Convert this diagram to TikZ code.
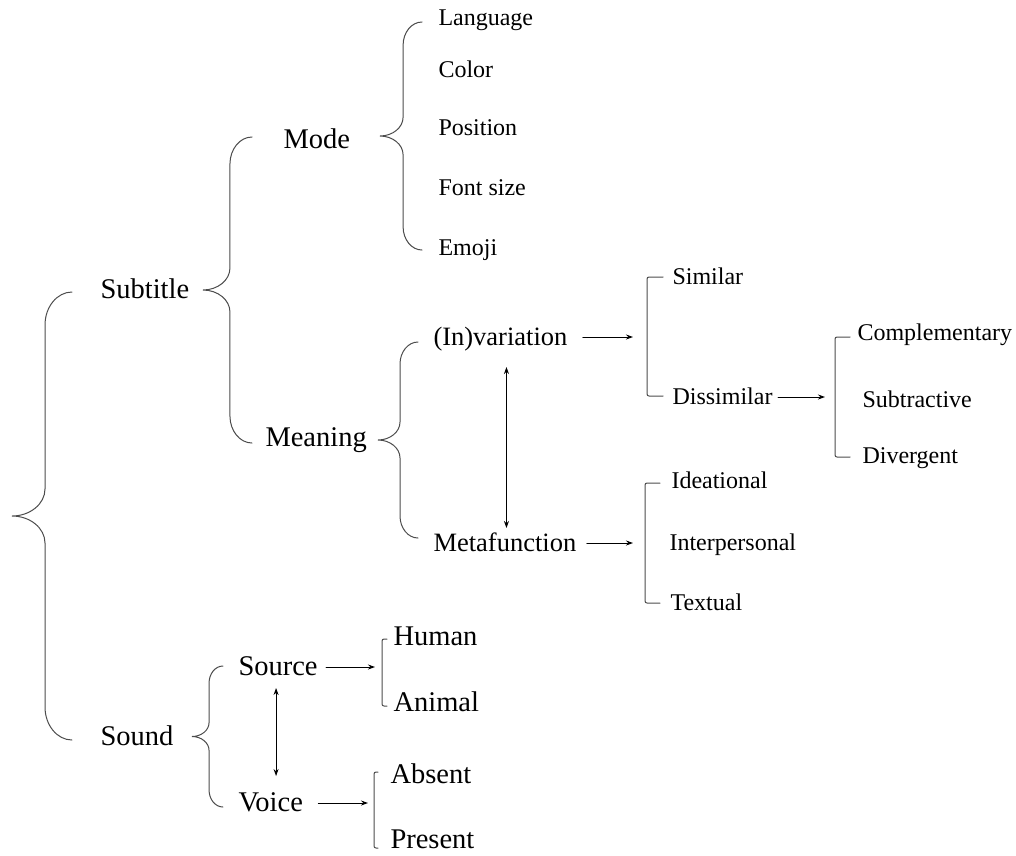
\documentclass[tikz,border=0pt]{standalone}
\usepackage{fontspec}
\setmainfont{Liberation Serif}
\usetikzlibrary{arrows.meta,calc}
\tikzset{
  big/.style={anchor=west, inner sep=0pt, text height=21pt, text depth=4pt, font=\fontsize{28.5}{30}\selectfont},
  mid/.style={big, font=\fontsize{26.5}{28}\selectfont},
  leaf/.style={anchor=west, inner sep=0pt, text height=17pt, text depth=3pt, font=\fontsize{24}{26}\selectfont},
  % curly brace from top end to bottom end, tip pointing left, #1 = depth
  curly/.style={draw=black!70, to path={
    (\tikztostart) .. controls +(-.25*#1,0) and +(0,-.3*#1) .. ++(-.45*#1,.55*#1)
    -- ($(\tikztostart)!.5!(\tikztotarget)+(-.45*#1,-.45*#1)$)
    .. controls +(0,.25*#1) and +(.3*#1,0) .. ($(\tikztostart)!.5!(\tikztotarget)+(-#1,0)$)
    .. controls +(.3*#1,0) and +(0,-.25*#1) .. ($(\tikztostart)!.5!(\tikztotarget)+(-.45*#1,.45*#1)$)
    -- ($(\tikztotarget)+(-.45*#1,-.55*#1)$)
    .. controls +(0,.3*#1) and +(-.25*#1,0) .. (\tikztotarget)}},
  bracket/.style={draw=black!70, rounded corners=2pt, to path={-- ++(-#1,0) |- (\tikztotarget)}},
  arr/.style={->, black}
}
\begin{document}
\begin{tikzpicture}[x=1pt, y=-1pt, line width=1pt, line cap=round, >={Stealth[length=7pt,width=5pt]}]
\useasboundingbox (0,0) rectangle (1016,855);
% main levels
\node[big] (Subtitle) at (100,290) {Subtitle};
\node[big] (Sound) at (100,737) {Sound};
\node[big] (Mode) at (283,140) {Mode};
\node[big] (Meaning) at (265,438) {Meaning};
\node[mid] (Invariation) at (433,337) {(In)variation};
\node[mid] (Metafunction) at (433,543) {Metafunction};
\node[big] (Source) at (238,667) {Source};
\node[big] (Voice) at (238,803) {Voice};
\foreach \n/\y in {Human/637,Animal/703}
  \node[big] (\n) at (393,\y) {\n};
\foreach \n/\y in {Absent/775,Present/840}
  \node[big] (\n) at (390,\y) {\n};
% leaves
\foreach \n/\t/\y in {Language/Language/18,Color/Color/70,Position/Position/128,Fontsize/Font size/188,Emoji/Emoji/248}
  \node[leaf] (\n) at (438,\y) {\t};
\foreach \n/\x/\y in {Similar/672/277,Dissimilar/672/397,Complementary/857/333,Subtractive/862/400,Divergent/862/456,Ideational/671/481,Interpersonal/669/543,Textual/670/603}
  \node[leaf] (\n) at (\x,\y) {\n};
% ends of braces and brackets
\foreach \c/\n/\dx/\dy in {
  sub1/Subtitle/-28/-2,sub2/Sound/-28/-3,
  mod1/Mode/-31/3,mod2/Meaning/-13/-5,
  lan1/Language/-16/-4,lan2/Emoji/-16/-2,
  mea1/Invariation/-15/-5,mea2/Metafunction/-15/5,
  snd1/Source/-15/1,snd2/Voice/-15/-4,
  sim1/Similar/-9/0,sim2/Dissimilar/-9/1,
  com1/Complementary/-7/-4,com2/Divergent/-12/-1,
  ide1/Ideational/-11/-2,ide2/Textual/-10/0,
  hum1/Human/-6/-2,hum2/Animal/-6/-3,
  abs1/Absent/-12/3,abs2/Present/-12/-8}
  \coordinate (\c) at ([xshift=\dx pt,yshift=\dy pt]\n.west);
\draw[curly=60] (sub1) to (sub2);
\draw[curly=49] (mod1) to (mod2);
\draw[curly=42] (lan1) to (lan2);
\draw[curly=40] (mea1) to (mea2);
\draw[curly=31] (snd1) to (snd2);
\draw[bracket=16] (sim1) to (sim2);
\draw[bracket=15] (com1) to (com2);
\draw[bracket=15] (ide1) to (ide2);
\draw[bracket=5] (hum1) to (hum2);
\draw[bracket=4] (abs1) to (abs2);
% arrows
\draw[arr, shorten <=15pt, shorten >=39pt] (Invariation.east) -- (Invariation.east -| Similar.west);
\draw[arr, shorten <=10pt, shorten >=36pt] (Metafunction.east) -- (Metafunction.east -| Interpersonal.west);
\draw[arr, shorten <=5pt, shorten >=32pt] (Dissimilar.east) -- (Dissimilar.east -| Complementary.west);
\draw[arr, shorten <=8pt, shorten >=18pt] (Source.east) -- (Source.east -| Human.west);
\draw[arr, shorten <=15pt, shorten >=22pt] (Voice.east) -- (Voice.east -| Absent.west);
\draw[<->, shorten <=17pt, shorten >=2pt] ([xshift=6pt]Invariation.south) -- ([xshift=6pt]Invariation.south |- Metafunction.north);
\draw[<->, shorten <=8pt, shorten >=14pt] ([xshift=-2pt]Source.south) -- ([xshift=-2pt]Source.south |- Voice.north);
\end{tikzpicture}
\end{document}
